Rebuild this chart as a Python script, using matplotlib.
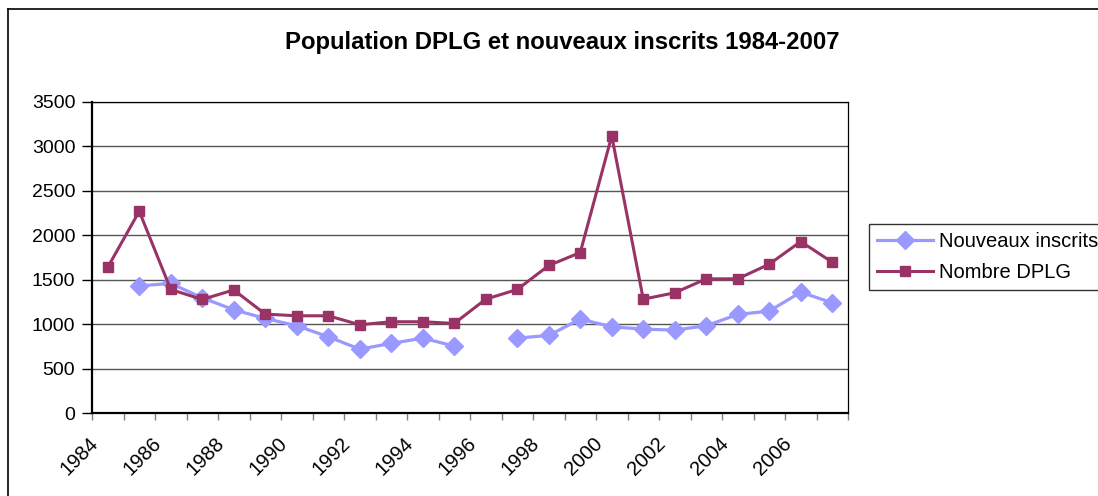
import numpy as np
import matplotlib.pyplot as plt
from matplotlib.lines import Line2D
from matplotlib.transforms import ScaledTranslation

plt.rc('font', family=['Liberation Sans', 'DejaVu Sans'], size=14)

years = list(range(1984, 2008))
nombre_dplg = [1640, 2270, 1390, 1278, 1385, 1113, 1094, 1094,
               993, 1027, 1027, 1008, 1281, 1390, 1660, 1806,
               3118, 1281, 1353, 1510, 1510, 1675, 1930, 1697]
nouveaux = [np.nan, 1431, 1458, 1296, 1162, 1064, 982, 858,
            719, 783, 843, 753, np.nan, 843, 873, 1057,
            970, 944, 933, 982, 1109, 1147, 1360, 1240]
year_labels = [str(y) for y in years[::2]]

fig = plt.figure(figsize=(10.98, 4.96), dpi=100)
ax = fig.add_axes([92/1098, 1-413/496, 756/1098, 311/496])

x = np.arange(len(years))
l1, = ax.plot(x, nouveaux, color='#9999FF', linewidth=2.3, marker='D', markersize=9,
              label='Nouveaux inscrits')
l2, = ax.plot(x, nombre_dplg, color='#993366', linewidth=2.2, marker='s', markersize=6.5,
              label='Nombre DPLG')

ax.set_xlim(-0.5, len(years)-0.5)
ax.set_ylim(0, 3500)
ax.set_yticks(np.arange(0, 3501, 500))
ax.yaxis.grid(True, color='#555555', linewidth=1)
ax.set_axisbelow(True)

# ticks between categories, labels on every second category
ax.set_xticks(np.arange(-0.5, len(years), 1))
ax.set_xticklabels([])
ax.tick_params(axis='x', which='major', length=5, color='#808080', width=1)
ax.set_xticks(x[::2], minor=True)
ax.set_xticklabels(year_labels, minor=True, rotation=45, ha='right', va='center',
                   rotation_mode='anchor', fontsize=14.5)
ax.tick_params(axis='x', which='minor', length=0, pad=20)
for lab in ax.get_xticklabels(minor=True):
    lab.set_transform(lab.get_transform() + ScaledTranslation(-0.12, 0, fig.dpi_scale_trans))
ax.tick_params(axis='y', length=7, width=1, pad=5)

for s in ['left', 'bottom']:
    ax.spines[s].set_linewidth(1.6)
for s in ['top', 'right']:
    ax.spines[s].set_linewidth(0.9)

fig.text(562/1098, 1-42/496, 'Population DPLG et nouveaux inscrits 1984-2007',
         ha='center', va='center', fontsize=17.2, fontweight='bold')

leg = fig.legend(handles=[l1, l2], loc='upper left',
                 bbox_to_anchor=(869/1098, 1-224/496), frameon=True,
                 fancybox=False, handlelength=2.8, handletextpad=0.3,
                 borderpad=0.4, labelspacing=0.6, borderaxespad=0, fontsize=14.5)
leg.get_frame().set_edgecolor('black')
leg.get_frame().set_linewidth(1)

# chart-area border (left and top)
fig.add_artist(Line2D([8/1098, 8/1098], [0, 1-9/496], color='black', linewidth=1.2,
                      transform=fig.transFigure))
fig.add_artist(Line2D([8/1098, 1], [1-9/496, 1-9/496], color='black', linewidth=1.2,
                      transform=fig.transFigure))

plt.savefig('out.png', dpi=100)
